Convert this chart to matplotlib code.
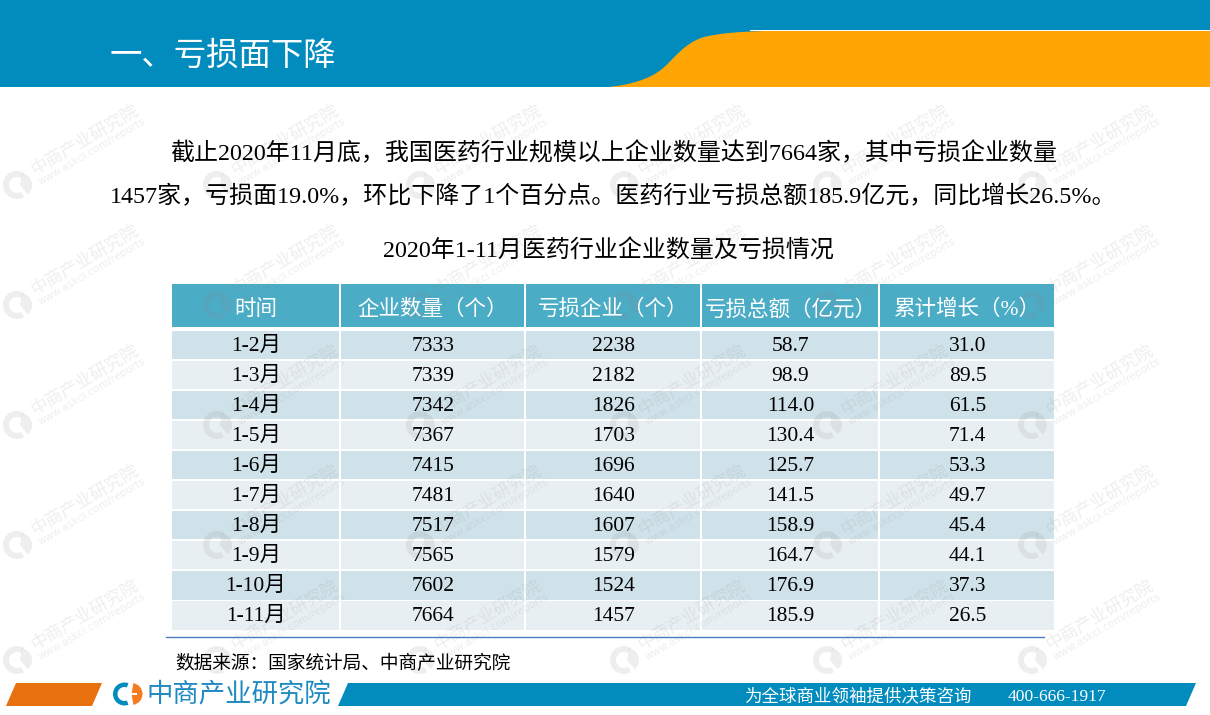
import matplotlib
matplotlib.use('Agg')
import matplotlib.pyplot as plt
from matplotlib.patches import Rectangle, Polygon, PathPatch, Wedge
from matplotlib.path import Path

plt.rcParams['font.family'] = ['Liberation Serif', 'Noto Sans CJK SC', 'DejaVu Sans']

TITLE = '一、亏损面下降'
PARA1 = '截止2020年11月底，我国医药行业规模以上企业数量达到7664家，其中亏损企业数量'
PARA2 = '1457家，亏损面19.0%，环比下降了1个百分点。医药行业亏损总额185.9亿元，同比增长26.5%。'
TABLE_TITLE = '2020年1-11月医药行业企业数量及亏损情况'
SOURCE = '数据来源：国家统计局、中商产业研究院'
ORG = '中商产业研究院'
SLOGAN = '为全球商业领袖提供决策咨询'
PHONE = '400-666-1917'

headers = ['时间', '企业数量（个）', '亏损企业（个）', '亏损总额（亿元）', '累计增长（%）']
periods = ['1-2月', '1-3月', '1-4月', '1-5月', '1-6月', '1-7月', '1-8月', '1-9月', '1-10月', '1-11月']
companies = [7333, 7339, 7342, 7367, 7415, 7481, 7517, 7565, 7602, 7664]
loss_companies = [2238, 2182, 1826, 1703, 1696, 1640, 1607, 1579, 1524, 1457]
loss_total = [58.7, 98.9, 114.0, 130.4, 125.7, 141.5, 158.9, 164.7, 176.9, 185.9]
growth = [31.0, 89.5, 61.5, 71.4, 53.3, 49.7, 45.4, 44.1, 37.3, 26.5]

BLUE = '#028cbe'
ORANGE = '#ffa504'

fig = plt.figure(figsize=(12.1, 7.15), dpi=100)
ax = fig.add_axes([0, 0, 1, 1])
ax.set_xlim(0, 1210)
ax.set_ylim(715, 0)
ax.axis('off')


def px(size):
    return size * 0.72


# watermark, repeated over the page
for wy in [185, 305, 425, 545, 660]:
    for wx in [17, 217, 420, 624, 827, 1032]:
        ax.add_patch(Wedge((wx, wy), 14, 60, 300, width=6, color='#888888', alpha=0.14, lw=0, zorder=3))
        ax.add_patch(Wedge((wx + 3, wy), 12, 280, 50, color='#888888', alpha=0.14, lw=0, zorder=3))
        ax.text(wx + 15, wy - 15, ORG, fontsize=px(17.4), rotation=30.5, rotation_mode='anchor',
                color='#888888', alpha=0.14, ha='left', va='center', zorder=3, family='Noto Sans CJK SC')
        ax.text(wx + 22, wy - 2, 'www.askci.com/reports', fontsize=px(10.5), rotation=30.5, rotation_mode='anchor',
                color='#888888', alpha=0.14, ha='left', va='center', zorder=3, family='DejaVu Sans')

# header band
ax.add_patch(Rectangle((0, 0), 1210, 87, color=BLUE, lw=0, zorder=5))
ax.add_patch(Rectangle((750, 30), 460, 1.3, color='white', lw=0, zorder=6))
verts = [(608, 87), (630, 85), (650, 79), (662, 69), (674, 59), (684, 43), (704, 37), (722, 33), (735, 32), (765, 31),
         (1210, 31), (1210, 87), (608, 87)]
codes = [Path.MOVETO, Path.CURVE4, Path.CURVE4, Path.CURVE4, Path.CURVE4, Path.CURVE4, Path.CURVE4, Path.CURVE4,
         Path.CURVE4, Path.CURVE4, Path.LINETO, Path.LINETO, Path.CLOSEPOLY]
ax.add_patch(PathPatch(Path(verts, codes), facecolor=ORANGE, edgecolor='none', zorder=6))
ax.text(110, 57, TITLE, fontsize=px(32.4), color='white', ha='left', va='center', zorder=7)

# paragraph
ax.text(170, 153, PARA1, fontsize=px(24), color='black', ha='left', va='center', zorder=7)
ax.text(110, 197, PARA2, fontsize=px(24), color='black', ha='left', va='center', zorder=7)
ax.text(608.5, 251, TABLE_TITLE, fontsize=px(24), color='black', ha='center', va='center', zorder=7)

# table
col_edges = [171.5, 340.5, 525.5, 701.5, 879.5, 1055.5]
for c, head in enumerate(headers):
    x0, x1 = col_edges[c], col_edges[c + 1]
    ax.add_patch(Rectangle((x0, 284), x1 - x0 - 1.2, 42.5, color='#4bacc6', lw=0, zorder=2))
    ax.text((x0 + x1) / 2, 310, head, fontsize=px(21.5), color='white', ha='center', va='center', zorder=7)

columns = [periods,
           [str(v) for v in companies],
           [str(v) for v in loss_companies],
           [f'{v:.1f}' for v in loss_total],
           [f'{v:.1f}' for v in growth]]
for r in range(len(periods)):
    ytop = 330.7 + r * 30.05
    for c in range(5):
        x0, x1 = col_edges[c], col_edges[c + 1]
        ax.add_patch(Rectangle((x0, ytop), x1 - x0 - 1.2, 28.4, lw=0, zorder=2,
                               color='#cfe1e9' if r % 2 == 0 else '#e8eff3'))
        ax.text((x0 + x1) / 2, ytop + 15.5, columns[c][r], fontsize=px(21.5), color='black',
                ha='center', va='center', zorder=7)

ax.plot([166, 1044], [637, 637], color='#4a7ebb', lw=1, zorder=4)
ax.text(175, 664, SOURCE, fontsize=px(18.7), color='black', ha='left', va='center', zorder=7)

# footer
ax.add_patch(Polygon([(16, 683), (102, 683), (92, 706), (6, 706)], color='#e8710f', lw=0, zorder=5))
ax.add_patch(Polygon([(348, 683), (1196, 683), (1186, 706), (338, 706)], color=BLUE, lw=0, zorder=5))
ax.add_patch(Wedge((124.5, 694), 11.5, 70, 290, width=4.5, color=BLUE, lw=0, zorder=6))
ax.add_patch(Wedge((131.5, 694), 11, 280, 80, color='#f47b20', lw=0, zorder=6))
ax.add_patch(Rectangle((129, 692.5), 8, 2.5, color='white', lw=0, zorder=6))
ax.text(146, 695, ORG, fontsize=px(26.4), color='#1f8ac0', ha='left', va='center', zorder=6, family='Noto Sans CJK SC')
ax.text(744, 697, SLOGAN, fontsize=px(17.5), color='white', ha='left', va='center', zorder=7)
ax.text(1057, 697, PHONE, fontsize=px(17.5), color='white', ha='center', va='center', zorder=7)

fig.savefig('out.png', dpi=100)
